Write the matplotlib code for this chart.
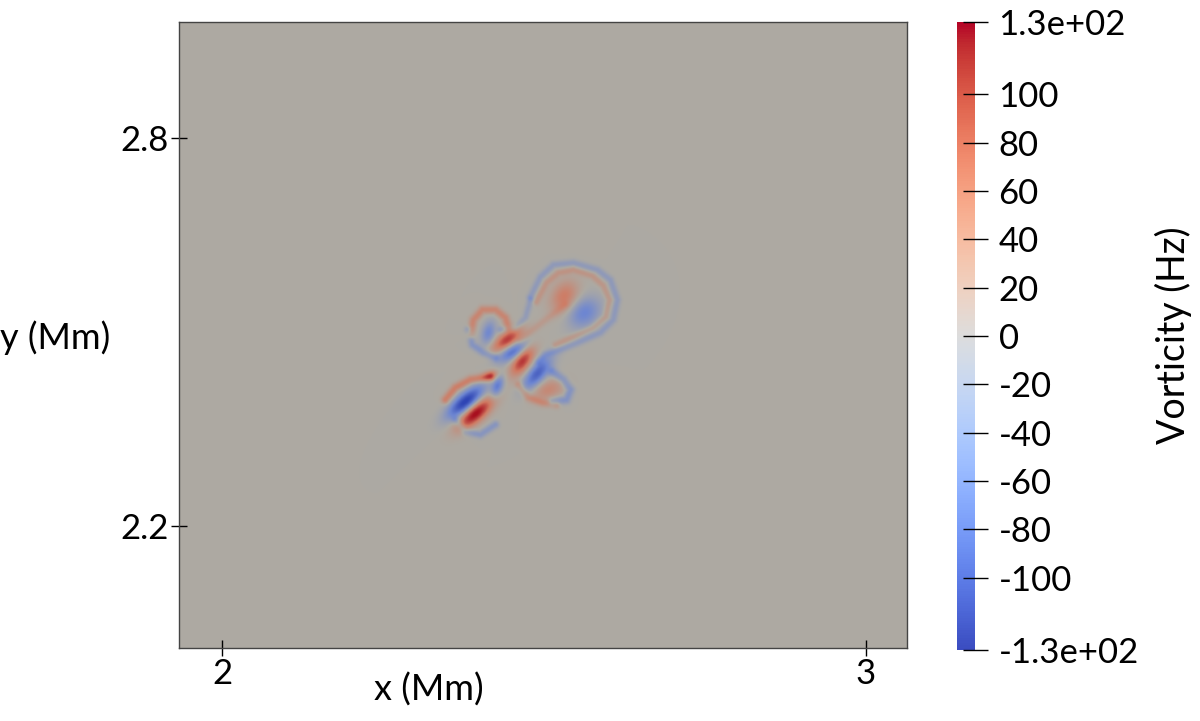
import numpy as np
import matplotlib
matplotlib.use("Agg")
from matplotlib import pyplot as plt
from matplotlib.colors import LinearSegmentedColormap, Normalize
from matplotlib.cm import ScalarMappable

plt.rcParams['font.family'] = ['Lato', 'DejaVu Sans']

# domain (Mm)
x_lim = [1.933, 3.064]
y_lim = [2.011, 2.979]
x_ticks = [2, 3]
y_ticks = [2.2, 2.8]
cbar_ticks = [-130, -100, -80, -60, -40, -20, 0, 20, 40, 60, 80, 100, 130]
cbar_labels = ['-1.3e+02', '-100', '-80', '-60', '-40', '-20', '0',
               '20', '40', '60', '80', '100', '1.3e+02']

# vortex blobs: centre (Mm), amplitude (Hz), sigmas (Mm), angle (deg)
blob_x = [2.3773, 2.3929, 2.4270, 2.4161, 2.4658, 2.4891, 2.4425, 2.4519, 2.4130, 2.5062, 2.5311, 2.5621]
blob_y = [2.3918, 2.3732, 2.4150, 2.4320, 2.4552, 2.4351, 2.4876, 2.4691, 2.4985, 2.4103, 2.5541, 2.5294]
blob_amp = [-135, 135, -75, 65, 110, -100, 105, -90, -60, 45, 62, -65]
blob_sa = [0.024, 0.023, 0.012, 0.009, 0.018, 0.021, 0.018, 0.018, 0.013, 0.018, 0.018, 0.019]
blob_sb = [0.0088, 0.0088, 0.006, 0.0055, 0.0088, 0.0088, 0.008, 0.008, 0.0072, 0.0105, 0.0135, 0.015]
blob_ang = [40, 40, 70, 20, 55, 50, 35, 30, 75, 20, 60, 40]

# thin vortex sheets (filaments): polylines in Mm
fil_pts = [
    [(2.4783, 2.5541), (2.4938, 2.5851), (2.5140, 2.6036), (2.5450, 2.6067), (2.5823, 2.5959),
     (2.6025, 2.5804), (2.6134, 2.5495), (2.6071, 2.5186), (2.5870, 2.4985), (2.5512, 2.4830),
     (2.5248, 2.4722), (2.5016, 2.4645), (2.4907, 2.4536)],
    [(2.4876, 2.5464), (2.5031, 2.5758), (2.5217, 2.5913), (2.5450, 2.5959), (2.5745, 2.5866),
     (2.5916, 2.5711), (2.6009, 2.5495), (2.5947, 2.5232), (2.5745, 2.5062), (2.5450, 2.4923),
     (2.5171, 2.4799)],
    [(2.4783, 2.5495), (2.4705, 2.5217), (2.4550, 2.5062), (2.4317, 2.5031)],
    [(2.3851, 2.4954), (2.3898, 2.5186), (2.4037, 2.5340), (2.4239, 2.5340), (2.4394, 2.5217),
     (2.4441, 2.5062)],
    [(2.3820, 2.5031), (2.3882, 2.4799), (2.4053, 2.4675), (2.4239, 2.4598)],
    [(2.3463, 2.3949), (2.3618, 2.4134), (2.3851, 2.4258), (2.4161, 2.4304)],
    [(2.3618, 2.3639), (2.3773, 2.3454), (2.4006, 2.3408), (2.4239, 2.3562)],
    [(2.5124, 2.4382), (2.5295, 2.4258), (2.5404, 2.4103), (2.5342, 2.3949), (2.5124, 2.3918)],
    [(2.4596, 2.4181), (2.4752, 2.3980), (2.4969, 2.3902), (2.5186, 2.3871)],
    [(2.4627, 2.4876), (2.5016, 2.5186), (2.5326, 2.5418)],
]
fil_amp = [-30, 28, -28, 50, -40, 60, -38, -45, 38, 20]
fil_w = [0.0040, 0.0038, 0.0038, 0.0045, 0.0042, 0.0045, 0.0042, 0.0048, 0.0042, 0.0042]

# build the vorticity field
X, Y = np.meshgrid(np.linspace(x_lim[0], x_lim[1], 900), np.linspace(y_lim[0], y_lim[1], 780))
W = np.zeros_like(X)
for bx, by, a, sa, sb, ang in zip(blob_x, blob_y, blob_amp, blob_sa, blob_sb, blob_ang):
    t = np.deg2rad(ang)
    u = (X - bx) * np.cos(t) + (Y - by) * np.sin(t)
    v = -(X - bx) * np.sin(t) + (Y - by) * np.cos(t)
    W += a * np.exp(-(u**2 / (2 * sa**2) + v**2 / (2 * sb**2)))
for pts, a, w in zip(fil_pts, fil_amp, fil_w):
    d2 = np.full_like(X, np.inf)
    for (ax_, ay_), (bx_, by_) in zip(pts[:-1], pts[1:]):
        dx, dy = bx_ - ax_, by_ - ay_
        tt = np.clip(((X - ax_) * dx + (Y - ay_) * dy) / (dx * dx + dy * dy), 0, 1)
        d2 = np.minimum(d2, (X - ax_ - tt * dx)**2 + (Y - ay_ - tt * dy)**2)
    W += a * np.exp(-d2 / (2 * w**2))

# shaded colour map as rendered in the scene
scene_cmap = LinearSegmentedColormap.from_list(
    'scene', [(0, '#2f45b5'), (0.25, '#6d86d2'), (0.5, '#adaaa3'), (0.75, '#d07a62'), (1, '#a8101f')])

fig = plt.figure(figsize=(12, 7.21), dpi=100)
ax = fig.add_axes([0.1492, 0.1012, 0.6067, 0.8682])
ax.imshow(W, origin='lower', extent=[x_lim[0], x_lim[1], y_lim[0], y_lim[1]],
          cmap=scene_cmap, vmin=-130, vmax=130, aspect='auto', interpolation='bilinear')
ax.set_xlim(x_lim)
ax.set_ylim(y_lim)
ax.set_xticks(x_ticks)
ax.set_xticklabels(['2', '3'])
ax.set_yticks(y_ticks)
ax.set_yticklabels(['2.2', '2.8'])
ax.tick_params(direction='inout', length=11, width=1, labelsize=25, pad=2, colors='black')
for s in ax.spines.values():
    s.set_color('#444444')
    s.set_linewidth(1)
fig.text(0.357, 0.043, 'x (Mm)', fontsize=26, ha='center', va='center')
fig.text(0.0, 0.531, 'y (Mm)', fontsize=26, ha='left', va='center')

# colour bar
cax = fig.add_axes([0.7975, 0.0985, 0.015, 0.871])
sm = ScalarMappable(norm=Normalize(-130, 130), cmap='coolwarm')
cb = fig.colorbar(sm, cax=cax)
cb.outline.set_visible(False)
cb.set_ticks(cbar_ticks)
cb.set_ticklabels(cbar_labels)
cax.tick_params(direction='inout', length=18, width=1, labelsize=25, pad=8)
fig.text(0.978, 0.535, 'Vorticity (Hz)', fontsize=27, rotation=90, ha='center', va='center')

plt.savefig('out.png', dpi=100)
